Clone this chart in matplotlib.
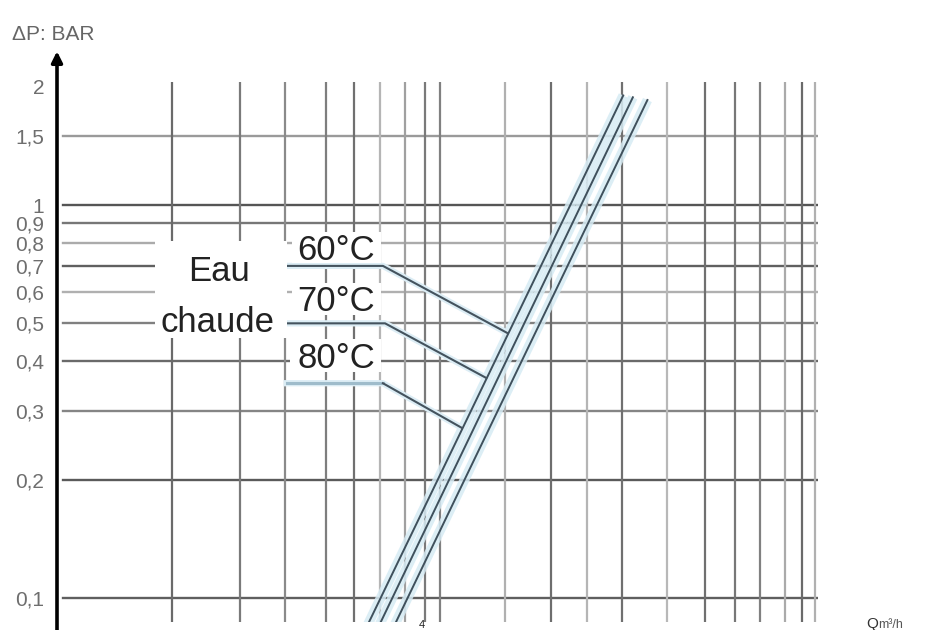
import numpy as np
import matplotlib.pyplot as plt
from matplotlib.patches import Rectangle
from matplotlib.ticker import NullLocator, NullFormatter

plt.rcParams['font.family'] = ['Liberation Sans', 'DejaVu Sans']

# pertes de charge, eau chaude : debit Q (m3/h) -> delta P (bar)
q_60 = [2.70, 13.3]
dp_60 = [0.078, 1.90]
q_70 = [2.90, 14.1]
dp_70 = [0.078, 1.88]
q_80 = [3.18, 15.4]
dp_80 = [0.078, 1.85]

# traits de rappel etiquette -> courbe
lead_q_60 = [1.71, 3.10, 6.6]
lead_dp_60 = [0.70, 0.70, 0.472]
lead_q_70 = [1.71, 3.14, 5.8]
lead_dp_70 = [0.50, 0.50, 0.363]
lead_q_80 = [1.73, 3.10, 5.0]
lead_dp_80 = [0.352, 0.352, 0.271]

y_ticks = [2, 1.5, 1, 0.9, 0.8, 0.7, 0.6, 0.5, 0.4, 0.3, 0.2, 0.1]
y_labels = ['2', '1,5', '1', '0,9', '0,8', '0,7', '0,6', '0,5', '0,4', '0,3', '0,2', '0,1']

h_grid = [1.5, 1, 0.9, 0.8, 0.7, 0.6, 0.5, 0.4, 0.3, 0.2, 0.1]
h_shade = ['#9a9a9a', '#555555', '#777777', '#ababab', '#606060', '#b0b0b0',
           '#808080', '#6a6a6a', '#858585', '#5a5a5a', '#5f5f5f']
v_grid = [0.864, 1.30, 1.71, 2.20, 2.60, 3.05, 3.54, 4.0, 4.38, 6.50,
          8.58, 10.7, 13.2, 17.3, 21.8, 26.2, 30.5, 35.4, 39.3, 42.5]
v_shade = ['#6a6a6a', '#7a7a7a', '#8a8a8a', '#7e7e7e', '#707070', '#b5b5b5',
           '#a0a0a0', '#7a7a7a', '#808080', '#b0b0b0', '#6e6e6e', '#b5b5b5',
           '#707070', '#b8b8b8', '#707070', '#777777', '#808080', '#aaaaaa',
           '#6a6a6a', '#b0b0b0']

W, H = 939, 630
fig = plt.figure(figsize=(W / 100, H / 100), dpi=100)
ax = fig.add_axes([57 / W, 8 / H, 761 / W, 540 / H])
ax.set_xscale('log')
ax.set_yscale('log')
ax.set_xlim(0.430, 43.3)
ax.set_ylim(0.0869, 2.056)

for v, c in zip(h_grid, h_shade):
    ax.axhline(v, xmin=0.008, color=c, lw=1.7, zorder=1)
for v, c in zip(v_grid, v_shade):
    ax.axvline(v, color=c, lw=1.6, zorder=1)

for s in ax.spines.values():
    s.set_visible(False)
ax.xaxis.set_major_locator(NullLocator())
ax.xaxis.set_minor_locator(NullLocator())
ax.yaxis.set_minor_locator(NullLocator())
ax.yaxis.set_minor_formatter(NullFormatter())
ax.set_yticks(y_ticks, y_labels)
ax.tick_params(axis='y', length=0, pad=9, labelsize=15, labelcolor='#6e6e6e')

# axe vertical avec fleche
ax.annotate('', xy=(0, 1.062), xytext=(0, -0.03), xycoords='axes fraction',
            arrowprops=dict(arrowstyle='-|>', lw=2.6, color='black', mutation_scale=16),
            annotation_clip=False, zorder=6)

# courbes (bande bleu clair + trait fonce)
for q, dp in [(q_60, dp_60), (q_70, dp_70), (q_80, dp_80)]:
    ax.plot(q, dp, color='#d6ebf4', lw=7, alpha=0.85, zorder=3, solid_capstyle='butt')
for q, dp in [(q_60, dp_60), (q_70, dp_70), (q_80, dp_80)]:
    ax.plot(q, dp, color='#3f505c', lw=1.4, zorder=4)

# traits de rappel
for q, dp in [(lead_q_60, lead_dp_60), (lead_q_70, lead_dp_70), (lead_q_80, lead_dp_80)]:
    ax.plot(q, dp, color='#dcedf5', lw=4.5, zorder=3)
ax.plot(lead_q_60, lead_dp_60, color='#44535e', lw=1.5, zorder=4)
ax.plot(lead_q_70, lead_dp_70, color='#44535e', lw=1.5, zorder=4)
ax.plot(lead_q_80[:2], lead_dp_80[:2], color='#9fbccb', lw=2.2, zorder=4)
ax.plot(lead_q_80[1:], lead_dp_80[1:], color='#44535e', lw=1.5, zorder=4)


def px_box(x0, y0, x1, y1):
    r = Rectangle((x0 / W, 1 - y1 / H), (x1 - x0) / W, (y1 - y0) / H,
                  transform=fig.transFigure, facecolor='white', edgecolor='none',
                  zorder=5, clip_on=False)
    ax.add_patch(r)


px_box(155, 241, 287, 338)
px_box(292, 232, 381, 263)
px_box(292, 283, 381, 315)
px_box(290, 339, 381, 372)

txt = dict(fontsize=25, color='#222222', zorder=7)
fig.text(219 / W, 1 - 281 / H, 'Eau', ha='center', va='baseline', **txt)
fig.text(218 / W, 1 - 332 / H, 'chaude', ha='center', va='baseline', **txt)
fig.text(336 / W, 1 - 260 / H, '60°C', ha='center', va='baseline', **txt)
fig.text(336 / W, 1 - 311 / H, '70°C', ha='center', va='baseline', **txt)
fig.text(336 / W, 1 - 368 / H, '80°C', ha='center', va='baseline', **txt)

fig.text(12 / W, 1 - 40 / H, 'ΔP: BAR', ha='left', va='baseline', fontsize=15, color='#666666')
fig.text(422 / W, 1 - 628 / H, '4', ha='center', va='baseline', fontsize=8,
         color='#222222', zorder=7)
fig.text(866 / W, 1 - 628 / H, 'Q', ha='left', va='baseline', fontsize=11, color='#333333')
fig.text(878 / W, 1 - 628 / H, 'm³/h', ha='left', va='baseline', fontsize=9, color='#555555')

fig.savefig('out.png', dpi=100, facecolor='white')
